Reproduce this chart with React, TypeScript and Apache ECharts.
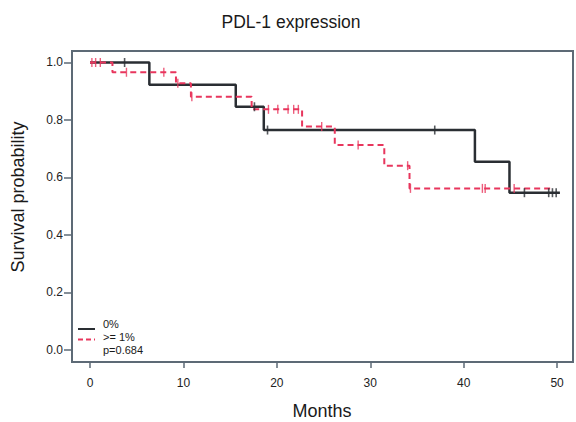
import React, { useEffect, useRef } from "react";
import * as echarts from "echarts";

const xTicks = [0, 10, 20, 30, 40, 50];
const yTicks = [0, 0.2, 0.4, 0.6, 0.8, 1.0];

// Group "0%" (Kaplan-Meier step points)
const g0Times = [0, 6.35, 15.6, 18.6, 41.2, 44.9, 50.3];
const g0Surv = [1.0, 0.923, 0.846, 0.765, 0.655, 0.547, 0.547];
const g0CensorTimes = [3.7, 17.6, 19.0, 36.9, 46.5, 49.1, 49.5, 49.9];
const g0CensorSurv = [1.0, 0.846, 0.765, 0.765, 0.547, 0.547, 0.547, 0.547];

// Group ">= 1%"
const g1Times = [0, 2.4, 9.2, 10.8, 17.3, 22.7, 26.2, 31.5, 34.2, 49.4];
const g1Surv = [1.0, 0.966, 0.928, 0.881, 0.837, 0.777, 0.713, 0.641, 0.562, 0.562];
const g1CensorTimes = [0.2, 0.6, 1.1, 3.9, 7.9, 9.4, 10.9, 19.1, 20.1, 21.2, 21.8, 22.3, 24.8, 28.7, 34.0, 34.3, 42.0, 42.3, 45.4];
const g1CensorSurv = [1.0, 1.0, 1.0, 0.966, 0.966, 0.928, 0.881, 0.837, 0.837, 0.837, 0.837, 0.837, 0.777, 0.713, 0.641, 0.562, 0.562, 0.562, 0.562];

const legendLabels = ["0%", ">= 1%", "p=0.684"];

const BLACK = "#2a2e33";
const RED = "#e8365d";
const AXIS = "#5d6a76";
const FONT = "'Liberation Sans', Arial, sans-serif";

function zip(a: number[], b: number[]) {
  return a.map((v, i) => [v, b[i]]);
}

export default function App() {
  const ref = useRef<HTMLDivElement>(null);
  useEffect(() => {
    const chart = echarts.init(ref.current!, null, { renderer: "svg" });
    chart.setOption({
      animation: false,
      backgroundColor: "#ffffff",
      title: {
        text: "PDL-1 expression",
        left: 286,
        textAlign: "center",
        top: 8,
        textStyle: { fontFamily: FONT, fontSize: 17.5, fontWeight: "normal", color: "#1a1a1a" },
      },
      grid: {
        left: 72,
        top: 51,
        right: 3,
        bottom: 60,
        show: true,
        borderColor: AXIS,
        borderWidth: 2,
        backgroundColor: "transparent",
      },
      xAxis: {
        type: "value",
        min: -1.93,
        max: 51.7,
        splitLine: { show: false },
        axisLine: { show: false, onZero: false },
        axisTick: { show: true, length: 6, lineStyle: { color: AXIS, width: 1.5 }, customValues: xTicks },
        axisLabel: {
          customValues: xTicks,
          margin: 15,
          fontFamily: FONT,
          fontSize: 12,
          color: "#222",
        },
      },
      yAxis: {
        type: "value",
        min: -0.042,
        max: 1.04,
        splitLine: { show: false },
        axisLine: { show: false, onZero: false },
        axisTick: { show: true, length: 8, lineStyle: { color: AXIS, width: 1.5 }, customValues: yTicks },
        axisLabel: {
          customValues: yTicks,
          margin: 9,
          fontFamily: FONT,
          fontSize: 12,
          color: "#222",
          formatter: (v: number) => v.toFixed(1),
        },
      },
      series: [
        {
          type: "line",
          step: "end",
          data: zip(g0Times, g0Surv),
          symbol: "none",
          lineStyle: { color: BLACK, width: 2.5 },
          z: 3,
        },
        {
          type: "line",
          step: "end",
          data: zip(g1Times, g1Surv),
          symbol: "none",
          lineStyle: { color: RED, width: 2, type: [6, 4] },
          z: 4,
        },
        {
          type: "scatter",
          data: zip(g0CensorTimes, g0CensorSurv),
          symbol: "rect",
          symbolSize: [1.6, 9],
          itemStyle: { color: BLACK },
          z: 5,
        },
        {
          type: "scatter",
          data: zip(g1CensorTimes, g1CensorSurv),
          symbol: "rect",
          symbolSize: [1.4, 9],
          itemStyle: { color: RED },
          z: 6,
        },
      ],
      graphic: [
        {
          type: "text",
          x: 18,
          y: 197,
          rotation: Math.PI / 2,
          style: {
            text: "Survival probability",
            fontFamily: FONT,
            fontSize: 18,
            fill: "#1a1a1a",
            align: "center",
            verticalAlign: "middle",
          },
        },
        {
          type: "text",
          x: 322,
          y: 411,
          style: {
            text: "Months",
            fontFamily: FONT,
            fontSize: 18,
            fill: "#1a1a1a",
            align: "center",
            verticalAlign: "middle",
          },
        },
        {
          type: "line",
          shape: { x1: 78, y1: 329, x2: 95, y2: 329 },
          style: { stroke: BLACK, lineWidth: 2 },
        },
        {
          type: "line",
          shape: { x1: 78, y1: 339.5, x2: 95, y2: 339.5 },
          style: { stroke: RED, lineWidth: 2, lineDash: [5, 3] },
        },
        {
          type: "text",
          x: 103,
          y: 324,
          style: { text: legendLabels[0], fontFamily: FONT, fontSize: 11, fill: "#1a1a1a", verticalAlign: "middle" },
        },
        {
          type: "text",
          x: 103,
          y: 337,
          style: { text: legendLabels[1], fontFamily: FONT, fontSize: 11, fill: "#1a1a1a", verticalAlign: "middle" },
        },
        {
          type: "text",
          x: 103,
          y: 350,
          style: { text: legendLabels[2], fontFamily: FONT, fontSize: 11, fill: "#1a1a1a", verticalAlign: "middle" },
        },
      ],
    });
    return () => chart.dispose();
  }, []);
  return <div ref={ref} style={{ position: "absolute", left: 0, top: 0, width: 576, height: 422 }} />;
}
